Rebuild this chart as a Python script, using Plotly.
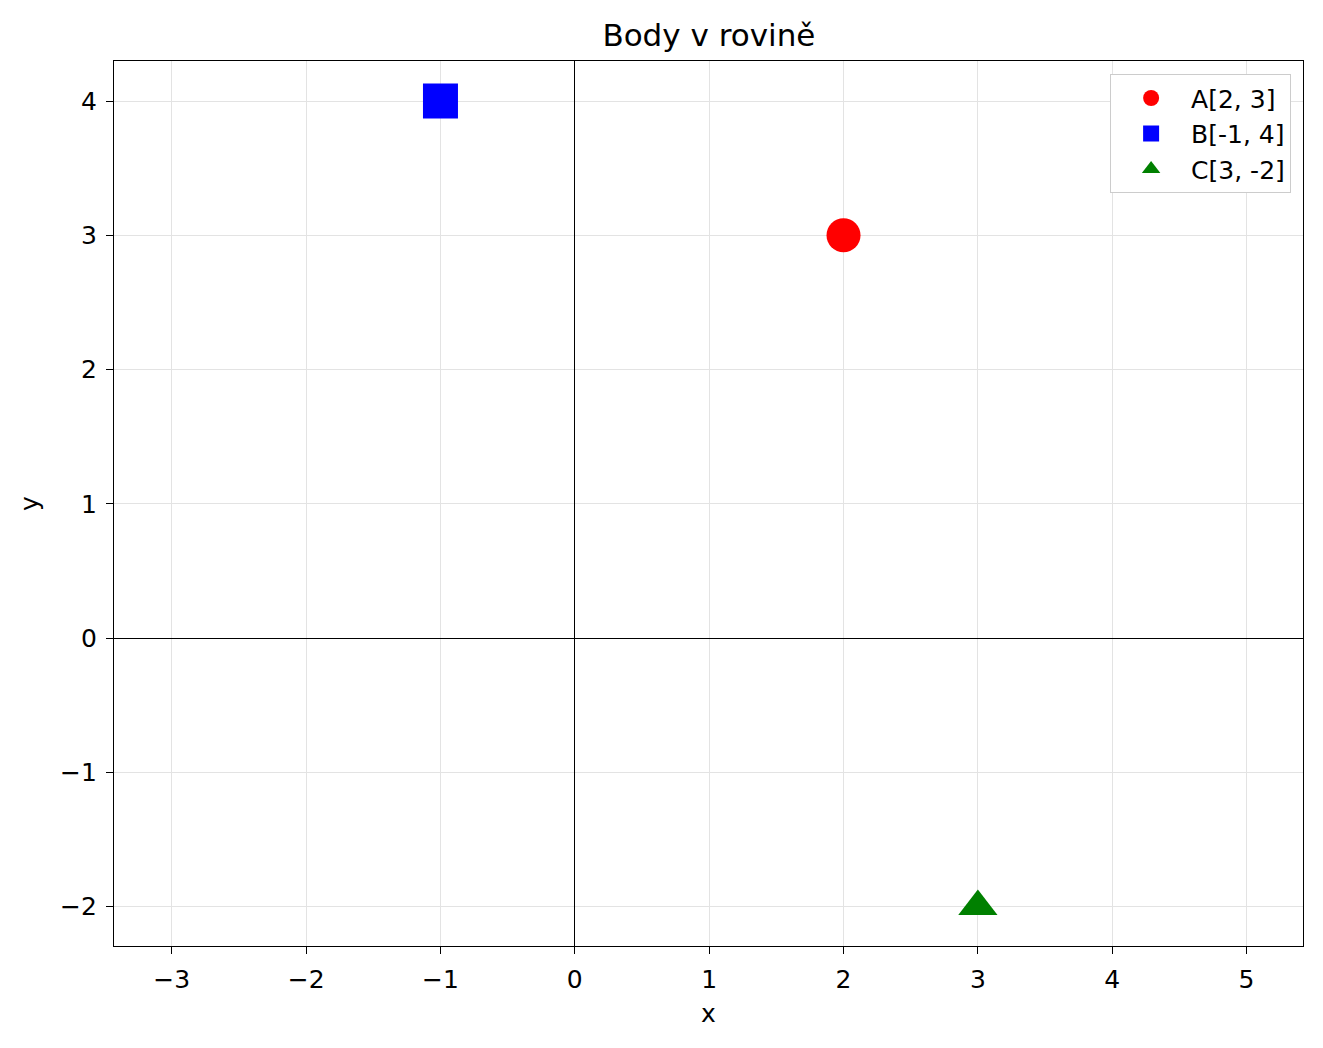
"""Body v rovině — three labelled points in the plane."""

import plotly.graph_objects as go

# point data
labels = ["A", "B", "C"]
xs = [2, -1, 3]
ys = [3, 4, -2]
colors = ["#ff0000", "#0000ff", "#008000"]
symbols = ["circle", "square", "triangle-up"]
sizes = [34, 35, 34]

x_ticks = [-3, -2, -1, 0, 1, 2, 3, 4, 5]
y_ticks = [-2, -1, 0, 1, 2, 3, 4]

FONT = "DejaVu Sans"


def minus(v):
    return str(v).replace("-", "\u2212")


fig = go.Figure()

for lab, x, y, c, s, sz in zip(labels, xs, ys, colors, symbols, sizes):
    fig.add_trace(
        go.Scatter(
            x=[x],
            y=[y],
            mode="markers",
            name=f"{lab}[{x}, {y}]",
            marker=dict(color=c, symbol=s, size=sz, line=dict(width=0)),
        )
    )

axis_common = dict(
    showline=True,
    mirror=True,
    linecolor="black",
    linewidth=1.1,
    ticks="outside",
    ticklen=7,
    tickwidth=1.1,
    tickcolor="black",
    ticklabelstandoff=4,
    showgrid=True,
    gridcolor="#e3e3e3",
    gridwidth=1.1,
    zeroline=True,
    zerolinecolor="black",
    zerolinewidth=1,
    tickfont=dict(family=FONT, size=25, color="black"),
    title_font=dict(family=FONT, size=25, color="black"),
)

# page body adds an 8px margin, so the figure is shrunk to fit the window
fig.update_layout(
    width=1315,
    height=1040,
    paper_bgcolor="white",
    plot_bgcolor="white",
    margin=dict(l=106, r=20, t=53, b=102),
    title=dict(
        text="Body v rovině",
        x=0.533,
        xanchor="center",
        y=0.974,
        yanchor="middle",
        font=dict(family=FONT, size=31, color="black"),
    ),
    xaxis=dict(axis_common, title=dict(text="x", standoff=11),
               range=[-3.43, 5.42], tickvals=x_ticks, ticktext=[minus(v) for v in x_ticks]),
    yaxis=dict(axis_common, title=dict(text="y", standoff=14),
               range=[-2.294, 4.298], tickvals=y_ticks, ticktext=[minus(v) for v in y_ticks]),
    legend=dict(
        x=0.99,
        y=0.985,
        xanchor="right",
        yanchor="top",
        bgcolor="white",
        bordercolor="#cccccc",
        borderwidth=1,
        font=dict(family=FONT, size=25, color="black"),
        itemsizing="trace",
        itemwidth=70,
    ),
    showlegend=True,
)

fig.write_html("out.html")
